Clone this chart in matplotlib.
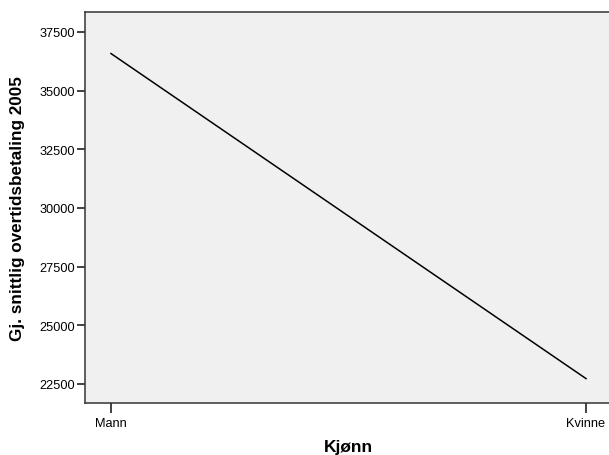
import matplotlib
matplotlib.use("Agg")
import matplotlib.pyplot as plt

plt.rcParams['font.family'] = ['Liberation Sans', 'DejaVu Sans']

categories = ["Mann", "Kvinne"]
mean_overtime = [36580, 22730]
y_ticks = [22500, 25000, 27500, 30000, 32500, 35000, 37500]

W, H = 609, 456
fig = plt.figure(figsize=(W / 100, H / 100), dpi=100)
left, right, top, bottom = 85, 612, 13, 404
aw, ah = right - left, bottom - top
ax = fig.add_axes([left / W, (H - bottom) / H, aw / W, ah / H])
ax.set_facecolor("#f0f0f0")

x = list(range(len(categories)))
ax.plot(x, mean_overtime, color="black", lw=1.1)

ax.set_xlim(-0.0547, 1.0547)
ax.set_ylim(21690, 38350)
ax.set_xticks(x)
ax.set_xticklabels(categories)
ax.set_yticks(y_ticks)
ax.tick_params(axis="both", labelsize=9.2, direction="out", width=1.2, color="#222222")
ax.tick_params(axis="y", length=6, pad=1)
ax.tick_params(axis="x", length=7, pad=3)

for s in ax.spines.values():
    s.set_color("#333333")
    s.set_linewidth(1.1)

ax.set_xlabel("Kjønn", fontsize=12.5, fontweight="bold", va="center", ha="center")
ax.xaxis.set_label_coords(0.5, (bottom - 448) / ah)
ax.set_ylabel("Gj. snittlig overtidsbetaling 2005", fontsize=12.3, fontweight="bold",
              va="center", ha="center")
ax.yaxis.set_label_coords((18 - left) / aw, 0.5)

fig.savefig("out.png", dpi=100)
